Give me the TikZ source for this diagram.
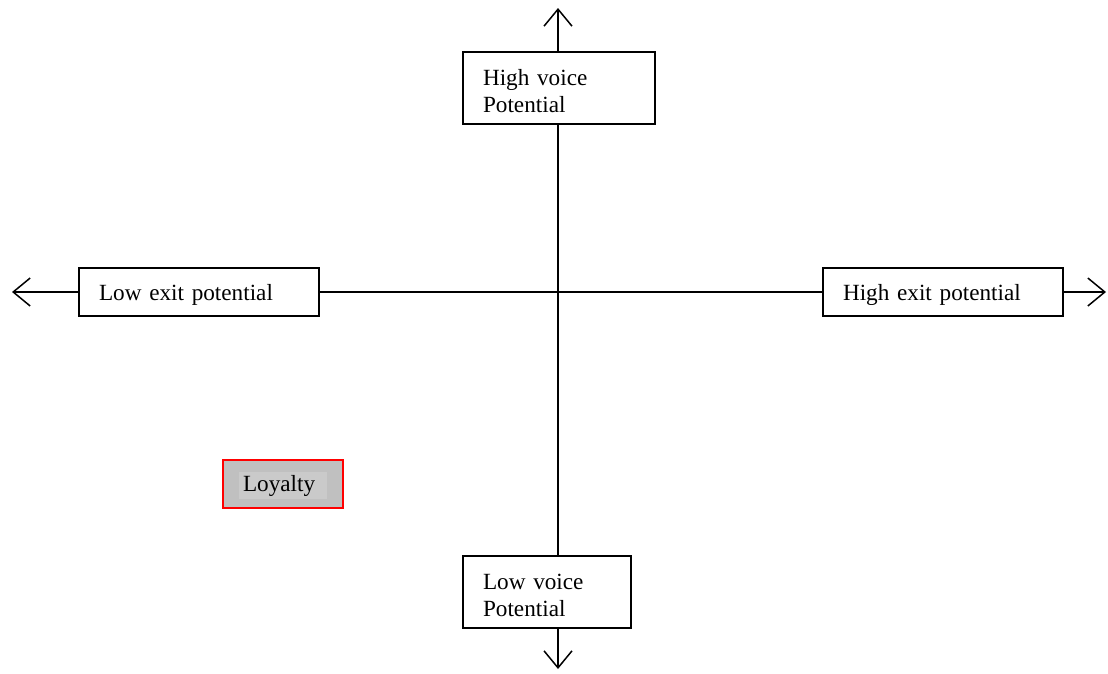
\documentclass[tikz,border=0pt]{standalone}
\usepackage{fontspec}
\setmainfont{Liberation Serif}
\usetikzlibrary{arrows.meta}
\definecolor{loyfill}{RGB}{192,192,192}
\definecolor{loytext}{RGB}{202,202,202}
\begin{document}
\begin{tikzpicture}[x=1pt,y=-1pt,
  every node/.style={font=\fontsize{23.2}{27}\selectfont},
  labelbox/.style={draw, line width=1.5pt, fill=white, rectangle,
    inner xsep=20pt, inner ysep=0pt, align=left, anchor=center,
    execute at begin node={\rule{0pt}{22pt}}},
  axis/.style={line width=1.5pt, arrows={-Straight Barb[length=17pt,width=28pt,line width=1.5pt]}},
  plain/.style={line width=1.5pt}]
  \useasboundingbox (0,0) rectangle (1108,673);
  % axis end points
  \coordinate (top) at (558,8);
  \coordinate (bottom) at (558,669);
  \coordinate (left) at (12,292);
  \coordinate (right) at (1106,292);
  % boxes
  \node[labelbox, text width=152pt, minimum height=72pt] (hv) at (559,88) {High voice\\Potential};
  \node[labelbox, text width=128pt, minimum height=72pt] (lv) at (547,592) {Low voice\\Potential};
  \node[labelbox, text width=200pt, minimum height=48pt] (lx) at (199,292) {Low exit potential};
  \node[labelbox, text width=200pt, minimum height=48pt] (hx) at (943,292) {High exit potential};
  \node[draw=red, line width=1.5pt, fill=loyfill, minimum width=120pt, minimum height=48pt] (loy) at (283,484) {};
  \node[fill=loytext, text width=80pt, inner xsep=4pt, inner ysep=3pt, align=left,
    text height=17pt, text depth=4pt] (loyt) at (283,485) {Loyalty};
  % vertical axis
  \draw[axis] (hv.north -| top) -- (top);
  \draw[plain] (hv.south -| top) -- (lv.north -| top);
  \draw[axis] (lv.south -| top) -- (bottom);
  % horizontal axis
  \draw[axis] (lx.west) -- (left);
  \draw[plain] (lx.east) -- (hx.west);
  \draw[axis] (hx.east) -- (right);
\end{tikzpicture}
\end{document}
